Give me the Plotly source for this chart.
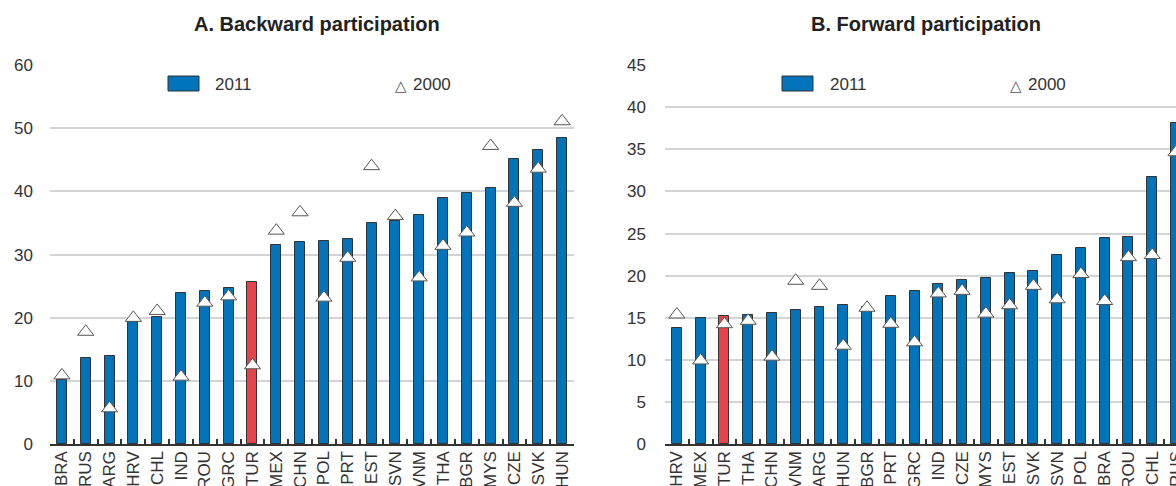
import plotly.graph_objects as go

W, H = 1176, 486

# ---- Data ----
cats_a = ["BRA", "RUS", "ARG", "HRV", "CHL", "IND", "ROU", "GRC", "TUR", "MEX", "CHN",
          "POL", "PRT", "EST", "SVN", "VNM", "THA", "BGR", "MYS", "CZE", "SVK", "HUN"]
a_2011 = [10.2, 13.6, 14.0, 19.4, 20.1, 23.9, 24.3, 24.8, 25.6, 31.6, 32.0,
          32.2, 32.4, 35.0, 35.4, 36.2, 38.9, 39.7, 40.5, 45.1, 46.6, 48.4]
a_2000 = [10.9, 17.8, 5.7, 20.0, 21.1, 10.7, 22.4, 23.4, 12.5, 33.8, 36.7,
          23.2, 29.5, 44.0, 36.1, 26.4, 31.4, 33.5, 47.2, 38.2, 43.6, 51.1]

cats_b = ["HRV", "MEX", "TUR", "THA", "CHN", "VNM", "ARG", "HUN", "BGR", "PRT", "GRC",
          "IND", "CZE", "MYS", "EST", "SVK", "SVN", "POL", "BRA", "ROU", "CHL", "RUS"]
b_2011 = [13.8, 15.0, 15.2, 15.3, 15.6, 15.9, 16.3, 16.5, 16.3, 17.6, 18.2,
          19.05, 19.5, 19.7, 20.3, 20.55, 22.5, 23.25, 24.45, 24.55, 31.75, 38.1]
b_2000 = [15.4, 9.95, 14.25, 14.65, 10.4, 19.4, 18.8, 11.7, 16.2, 14.3, 12.1,
          17.9, 18.2, 15.5, 16.5, 18.8, 17.2, 20.2, 17.0, 22.2, 22.45, 34.65]

highlight = "TUR"
titles = ["A. Backward participation", "B. Forward participation"]
series_names = ["2011", "2000"]

BLUE = "#0073BB"
RED = "#E8434A"
DARK = "#333333"
FONT = "Liberation Sans, Arial, sans-serif"

fig = go.Figure()

def add_panel(cats, v11, v00, xa, ya):
    colors = [RED if c == highlight else BLUE for c in cats]
    fig.add_trace(go.Bar(x=cats, y=v11, name=series_names[0], marker=dict(color=colors, line=dict(color=DARK, width=1)),
                         width=0.42, xaxis=xa, yaxis=ya, showlegend=False, hoverinfo="skip"))
    fig.add_trace(go.Scatter(x=cats, y=v00, name=series_names[1], mode="markers",
                             marker=dict(symbol="triangle-up", size=14, color="white", line=dict(color="#555555", width=1)),
                             xaxis=xa, yaxis=ya, showlegend=False, hoverinfo="skip"))

add_panel(cats_a, a_2011, a_2000, "x", "y")
add_panel(cats_b, b_2011, b_2000, "x2", "y2")

ydom = [(H - 444.3) / H, (H - 65) / H]
xdomA = [50 / W, 574 / W]
xdomB = [665 / W, 1.0]

xcommon = dict(type="category", showline=True, linecolor=DARK, linewidth=2, ticks="inside",
               tickson="boundaries", ticklen=5, tickwidth=1.5, tickcolor=DARK, tickangle=-90,
               showgrid=False, zeroline=False, automargin=False, ticklabelstandoff=-2,
               tickfont=dict(family=FONT, size=17, color=DARK))
ycommon = dict(showgrid=True, gridcolor="#D4D4D4", gridwidth=1.5, zeroline=False, showline=False,
               ticks="", automargin=False, tickfont=dict(family=FONT, size=17, color=DARK))

fig.update_layout(
    width=W, height=H, margin=dict(l=0, r=0, t=0, b=0),
    paper_bgcolor="white", plot_bgcolor="white", showlegend=False,
    bargap=0,
    xaxis=dict(xcommon, domain=xdomA, anchor="y", range=[-0.5, 21.5]),
    yaxis=dict(ycommon, domain=ydom, anchor="x", range=[0, 60], dtick=10, ticklabelstandoff=16),
    xaxis2=dict(xcommon, domain=xdomB, anchor="y2", range=[-0.5, 21.0]),
    yaxis2=dict(ycommon, domain=ydom, anchor="x2", range=[0, 45], dtick=5, ticklabelstandoff=18),
)

# Titles
for t, cx in zip(titles, [317, 926.5]):
    fig.add_annotation(text="<b>%s</b>" % t, x=cx / W, y=1 - 24 / H, xref="paper", yref="paper",
                       showarrow=False, xanchor="center", yanchor="middle",
                       font=dict(family=FONT, size=20, color="#222222"))

# Custom legends
for (rx0, tx11, trx, tx00) in [(168, 213, 401, 411), (782, 828, 1016, 1026)]:
    fig.add_shape(type="rect", xref="paper", yref="paper", x0=rx0 / W, x1=(rx0 + 31) / W,
                  y0=1 - 91 / H, y1=1 - 76 / H, fillcolor=BLUE, line=dict(color=DARK, width=1))
    fig.add_annotation(text=series_names[0], x=tx11 / W, y=1 - 84 / H, xref="paper", yref="paper",
                       showarrow=False, xanchor="left", yanchor="middle",
                       font=dict(family=FONT, size=17, color=DARK))
    fig.add_annotation(text="△", x=trx / W, y=1 - 86 / H, xref="paper", yref="paper",
                       showarrow=False, xanchor="center", yanchor="middle",
                       font=dict(family="DejaVu Sans", size=15, color="#555555"))
    fig.add_annotation(text=series_names[1], x=tx00 / W, y=1 - 84 / H, xref="paper", yref="paper",
                       showarrow=False, xanchor="left", yanchor="middle",
                       font=dict(family=FONT, size=17, color=DARK))

fig.write_html("out.html", config={"displayModeBar": False},
               post_script="document.body.style.margin='0';document.body.style.overflow='hidden';")
